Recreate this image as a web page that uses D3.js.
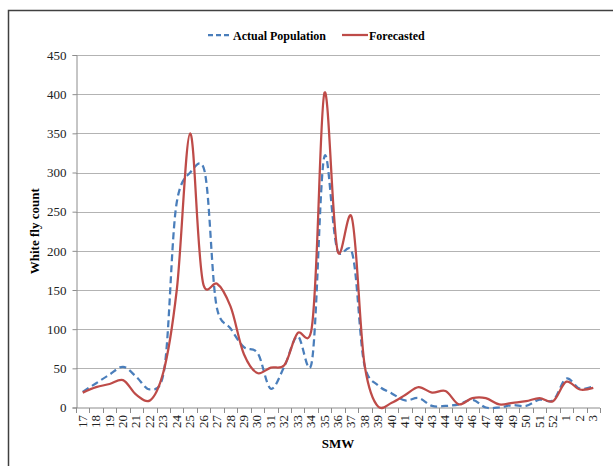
<!DOCTYPE html>
<html>
<head>
<meta charset="utf-8">
<script src="https://cdn.jsdelivr.net/npm/d3@7"></script>
<style>
  body { margin: 0; background: #fff; }
  text { font-family: "Liberation Serif", "Times New Roman", serif; }
</style>
</head>
<body>
<div id="chart"></div>
<script>
// Standard meteorological weeks
var weeks = ["17","18","19","20","21","22","23","24","25","26","27","28","29","30",
  "31","32","33","34","35","36","37","38","39","40","41","42","43","44","45","46",
  "47","48","49","50","51","52","1","2","3"];

var actual = [20,31,42,52,39,23,42,262,300,306,126,101,77,70,
  24,52,91,54,321,199,200,52,28,18,9,12,2,2,4,10,
  0,0,3,2,10,9,37,24,27];

var forecast = [19,26,30,35,16,9,45,150,350,156,158,129,68,44,
  51,54,95,97,402,198,244,52,1,6,16,26,19,21,4,12,
  12,4,6,8,12,8,33,23,25];

var yTicks = [0,50,100,150,200,250,300,350,400,450];

var svgWidth = 613, svgHeight = 466;
var margin = { top: 55, right: 13, bottom: 58.5, left: 76 };
var chartWidth = svgWidth - margin.left - margin.right;
var chartHeight = svgHeight - margin.top - margin.bottom;

var svg = d3.select("#chart").append("svg")
  .attr("width", svgWidth)
  .attr("height", svgHeight);

// outer frame
svg.append("rect")
  .attr("x", 8.5).attr("y", 10.5)
  .attr("width", 620).attr("height", 480)
  .attr("fill", "none")
  .attr("stroke", "#404040")
  .attr("stroke-width", 1.5);

var chartGroup = svg.append("g")
  .attr("transform", `translate(${margin.left}, ${margin.top})`);

var xScale = d3.scaleBand()
  .domain(weeks)
  .range([0, chartWidth]);

var yScale = d3.scaleLinear()
  .domain([0, 450])
  .range([chartHeight, 0]);

// gridlines
chartGroup.selectAll("line.grid")
  .data(yTicks.slice(1))
  .enter()
  .append("line")
  .classed("grid", true)
  .attr("x1", 0)
  .attr("x2", chartWidth)
  .attr("y1", d => Math.round(yScale(d)) + 0.5)
  .attr("y2", d => Math.round(yScale(d)) + 0.5)
  .attr("stroke", "#b3b3b3")
  .attr("stroke-width", 1);

// y axis
var yAxis = d3.axisLeft(yScale).tickValues(yTicks).tickSize(4).tickPadding(6);
var yG = chartGroup.append("g").attr("transform", "translate(0.5,0)").call(yAxis);
yG.select(".domain").attr("stroke", "#8c8c8c");
yG.selectAll(".tick line").attr("stroke", "#8c8c8c");
yG.selectAll(".tick text")
  .attr("font-size", "13px")
  .attr("font-family", "Liberation Serif, serif")
  .attr("fill", "#222");

// x axis: ticks between categories
var xG = chartGroup.append("g")
  .attr("transform", `translate(0, ${chartHeight + 0.5})`);
xG.append("line")
  .attr("x1", 0).attr("x2", chartWidth)
  .attr("stroke", "#8c8c8c");
xG.selectAll("line.tk")
  .data(weeks.concat(["end"]))
  .enter()
  .append("line")
  .classed("tk", true)
  .attr("x1", (d, i) => Math.round(i * xScale.step()) + 0.5)
  .attr("x2", (d, i) => Math.round(i * xScale.step()) + 0.5)
  .attr("y1", 0).attr("y2", 5)
  .attr("stroke", "#8c8c8c");
xG.selectAll("text")
  .data(weeks)
  .enter()
  .append("text")
  .attr("transform", d => `translate(${xScale(d) + xScale.bandwidth() / 2 + 4}, 7) rotate(-90)`)
  .attr("text-anchor", "end")
  .attr("font-size", "13px")
  .attr("fill", "#222")
  .text(d => d);

// lines
var line = function (values) {
  return d3.line()
    .x((d, i) => xScale(weeks[i]) + xScale.bandwidth() / 2)
    .y(d => yScale(d))
    .curve(d3.curveCatmullRom.alpha(0.2))(values);
};

chartGroup.append("path")
  .attr("d", line(actual))
  .attr("fill", "none")
  .attr("stroke", "#4a7ebb")
  .attr("stroke-width", 2.25)
  .attr("stroke-dasharray", "7,4");

chartGroup.append("path")
  .attr("d", line(forecast))
  .attr("fill", "none")
  .attr("stroke", "#be4b48")
  .attr("stroke-width", 2.25);

// legend
var legend = svg.append("g");
legend.append("line")
  .attr("x1", 208).attr("x2", 232).attr("y1", 35).attr("y2", 35)
  .attr("stroke", "#4a7ebb").attr("stroke-width", 2.25)
  .attr("stroke-dasharray", "5,3");
legend.append("text")
  .attr("x", 233).attr("y", 39.5)
  .attr("font-size", "12px").attr("font-weight", "bold")
  .text("Actual Population");
legend.append("line")
  .attr("x1", 342).attr("x2", 368).attr("y1", 35).attr("y2", 35)
  .attr("stroke", "#be4b48").attr("stroke-width", 2.25);
legend.append("text")
  .attr("x", 369).attr("y", 39.5)
  .attr("font-size", "12px").attr("font-weight", "bold")
  .text("Forecasted");

// axis titles
svg.append("text")
  .attr("transform", `translate(39, ${margin.top + chartHeight / 2}) rotate(-90)`)
  .attr("text-anchor", "middle")
  .attr("font-size", "13px").attr("font-weight", "bold")
  .text("White fly count");

svg.append("text")
  .attr("x", margin.left + chartWidth / 2)
  .attr("y", 448)
  .attr("text-anchor", "middle")
  .attr("font-size", "13px").attr("font-weight", "bold")
  .text("SMW");
</script>
</body>
</html>
